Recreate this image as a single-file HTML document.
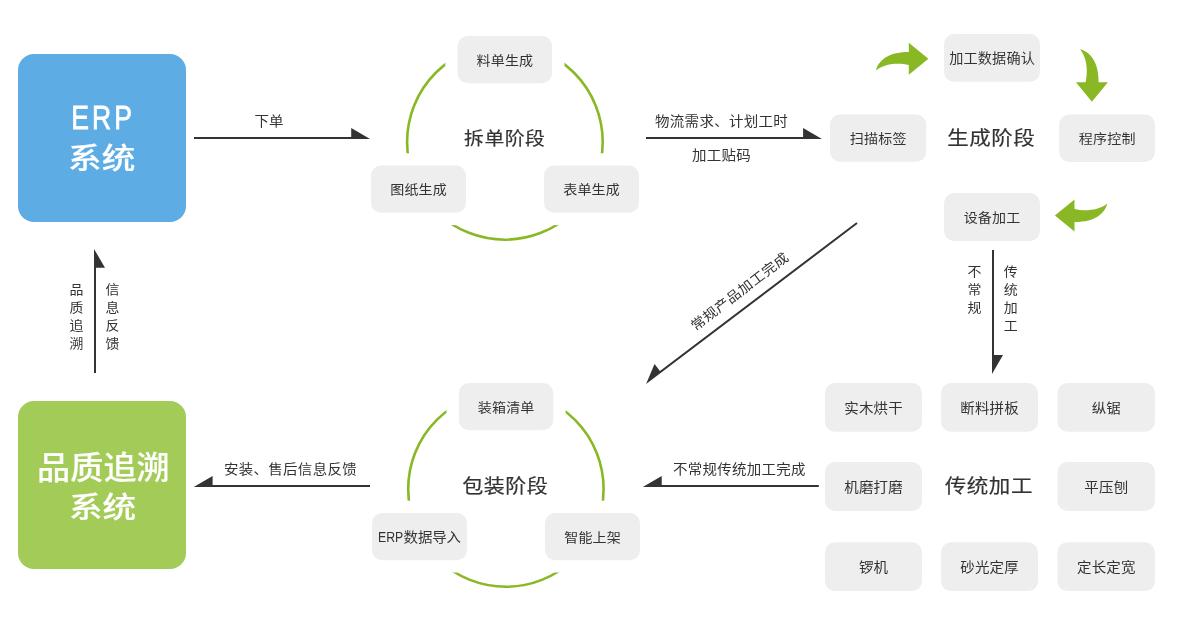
<!DOCTYPE html>
<html lang="zh-CN">
<head>
<meta charset="utf-8">
<title>ERP 系统流程</title>
<style>
html,body{margin:0;padding:0;background:#fff;}
body{width:1200px;height:620px;overflow:hidden;position:relative;font-family:"Liberation Sans","Noto Sans CJK SC",sans-serif;}
svg{position:absolute;left:0;top:0;display:block;will-change:transform;}
text{font-family:"Liberation Sans","Noto Sans CJK SC",sans-serif;}
.b{fill:#eeeeee;}
.t,.h{fill:#333;text-anchor:middle;}
.h{stroke:#333;stroke-width:0.18;}
.a{fill:#333;}
.arc{stroke:#8ab825;stroke-width:2.6;fill:none;}
.g{fill:#8ab825;}
.w{fill:#fff;text-anchor:middle;}
</style>
</head>
<body>
<svg width="1200" height="620" viewBox="0 0 1200 620">
<circle class="arc" cx="504.9" cy="141.9" r="97.8"/>
<circle class="arc" cx="505.9" cy="489" r="97.7"/>
<rect fill="#fff" x="445.3" y="23.7" width="119.1" height="71.9"/>
<rect fill="#fff" x="358.7" y="153.3" width="119.6" height="71.8"/>
<rect fill="#fff" x="531.7" y="153.3" width="119.6" height="71.8"/>
<rect fill="#fff" x="446.5" y="370.7" width="119.1" height="71.8"/>
<rect fill="#fff" x="359.7" y="500.7" width="119.6" height="71.8"/>
<rect fill="#fff" x="532.7" y="500.7" width="119.6" height="71.8"/>
<rect x="18" y="54" width="168" height="168" rx="16" fill="#5dade4"/>
<text class="w" transform="translate(101.6,128.5) scale(0.78,1)" x="2" y="0" font-size="34" letter-spacing="4.0" font-weight="400" stroke="#fff" stroke-width="0.8">ERP</text>
<text class="w" transform="translate(101.7,168.9) scale(1.16,1)" x="0" y="0" font-size="29" letter-spacing="0" font-weight="500" stroke="#fff" stroke-width="0.15">系统</text>
<rect x="18" y="401" width="168" height="168" rx="16" fill="#a3cb57"/>
<text class="w" transform="translate(103.4,479.4) scale(1.06,1)" x="0" y="0" font-size="31.3" letter-spacing="0" font-weight="500" stroke="#fff" stroke-width="0.15">品质追溯</text>
<text class="w" transform="translate(102.6,517.9) scale(1.16,1)" x="0" y="0" font-size="29" letter-spacing="0" font-weight="500" stroke="#fff" stroke-width="0.15">系统</text>
<path class="a" d="M194 139L370.1 139L351.2 128L351.2 137L194 137Z"/>
<text class="t" transform="translate(269,126) scale(1.08,1)" x="0.1" y="0" font-size="13.4" letter-spacing="0.2">下单</text>
<rect class="b" x="457.6" y="36" width="94.5" height="47.3" rx="10"/>
<text class="t" transform="translate(504.85,64.65) scale(1.08,1)" x="0.07" y="0" font-size="13" letter-spacing="0.15">料单生成</text>
<rect class="b" x="371" y="165.6" width="95" height="47.2" rx="10"/>
<text class="t" transform="translate(418.5,194.2) scale(1.08,1)" x="0.07" y="0" font-size="13" letter-spacing="0.15">图纸生成</text>
<rect class="b" x="544" y="165.6" width="95" height="47.2" rx="10"/>
<text class="t" transform="translate(591.5,194.2) scale(1.08,1)" x="0.07" y="0" font-size="13" letter-spacing="0.15">表单生成</text>
<text class="h" transform="translate(504.5,145.2) scale(1.085,1)" x="0.23" y="0" font-size="18.3" letter-spacing="0.45">拆单阶段</text>
<path class="a" d="M646 139L822 139L803.1 128L803.1 137L646 137Z"/>
<text class="t" transform="translate(721.4,126) scale(1.08,1)" x="0.15" y="0" font-size="13.4" letter-spacing="0.3">物流需求、计划工时</text>
<text class="t" transform="translate(721.4,160) scale(1.08,1)" x="0.15" y="0" font-size="13.4" letter-spacing="0.3">加工贴码</text>
<rect class="b" x="944" y="34" width="96" height="47.8" rx="10"/>
<text class="t" transform="translate(992,62.9) scale(1.08,1)" x="0.07" y="0" font-size="13.1" letter-spacing="0.15">加工数据确认</text>
<rect class="b" x="830" y="114.5" width="96.2" height="47.3" rx="10"/>
<text class="t" transform="translate(878.1,143.15) scale(1.08,1)" x="0.1" y="0" font-size="13" letter-spacing="0.2">扫描标签</text>
<rect class="b" x="1059.2" y="114.5" width="95.8" height="47.4" rx="10"/>
<text class="t" transform="translate(1107.1,143.2) scale(1.08,1)" x="0.1" y="0" font-size="13" letter-spacing="0.2">程序控制</text>
<rect class="b" x="944" y="193" width="96" height="48" rx="10"/>
<text class="t" transform="translate(992,222.4) scale(1.08,1)" x="0.1" y="0" font-size="13" letter-spacing="0.2">设备加工</text>
<text class="h" transform="translate(991,145) scale(1.115,1)" x="0.23" y="0" font-size="19.3" letter-spacing="0.45">生成阶段</text>
<path class="g" transform="translate(928.1,58.7)" d="M-52.2 11.8C-49.6 2 -40.1 -6.9 -19.3 -6.7V-16L0.3 0L-19.3 16V6.3C-29.1 4.1 -42.5 4.3 -52.2 11.8Z"/>
<path class="g" transform="translate(1091.9,101.5) rotate(90)" d="M-52.2 11.8C-49.6 2 -40.1 -6.9 -19.3 -6.7V-16L0.3 0L-19.3 16V6.3C-29.1 4.1 -42.5 4.3 -52.2 11.8Z"/>
<path class="g" transform="translate(1055.2,215.4) rotate(180)" d="M-52.2 11.8C-49.6 2 -40.1 -6.9 -19.3 -6.7V-16L0.3 0L-19.3 16V6.3C-29.1 4.1 -42.5 4.3 -52.2 11.8Z"/>
<path class="a" d="M857.6 223.8L646.1 384.1L654.52 363.91L659.96 371.09L856.4 222.2Z"/>
<text class="t" transform="translate(742.6,295.3) rotate(-37.3) scale(1.08,1)" x="0" y="0" font-size="13.4" letter-spacing="0.35" style="text-anchor:middle">常规产品加工完成</text>
<path class="a" d="M992 250L992 373.9L1003 355L994 355L994 250Z"/>
<text class="t" transform="translate(974.5,275.7) scale(1.08,1)" x="0 0 0" y="0 18 36" font-size="12.9">不常规</text>
<text class="t" transform="translate(1010.8,275.7) scale(1.08,1)" x="0 0 0 0" y="0 18 36 54" font-size="12.9">传统加工</text>
<rect class="b" x="825" y="383" width="97" height="48.8" rx="10"/>
<text class="t" transform="translate(873.5,412.5) scale(1.08,1)" x="0.1" y="0" font-size="13.4" letter-spacing="0.2">实木烘干</text>
<rect class="b" x="941" y="383" width="97" height="48.8" rx="10"/>
<text class="t" transform="translate(989.5,412.5) scale(1.08,1)" x="0.1" y="0" font-size="13.4" letter-spacing="0.2">断料拼板</text>
<rect class="b" x="1057.5" y="383" width="97.5" height="48.8" rx="10"/>
<text class="t" transform="translate(1106.25,412.5) scale(1.08,1)" x="0.1" y="0" font-size="13.4" letter-spacing="0.2">纵锯</text>
<rect class="b" x="825" y="462.1" width="97" height="48.8" rx="10"/>
<text class="t" transform="translate(873.5,491.6) scale(1.08,1)" x="0.1" y="0" font-size="13.4" letter-spacing="0.2">机磨打磨</text>
<rect class="b" x="1057.5" y="462.1" width="97.5" height="48.8" rx="10"/>
<text class="t" transform="translate(1106.25,491.6) scale(1.08,1)" x="0.1" y="0" font-size="13.4" letter-spacing="0.2">平压刨</text>
<rect class="b" x="825" y="542.3" width="97" height="48.8" rx="10"/>
<text class="t" transform="translate(873.5,571.8) scale(1.08,1)" x="0.1" y="0" font-size="13.4" letter-spacing="0.2">锣机</text>
<rect class="b" x="941" y="542.3" width="97" height="48.8" rx="10"/>
<text class="t" transform="translate(989.5,571.8) scale(1.08,1)" x="0.1" y="0" font-size="13.4" letter-spacing="0.2">砂光定厚</text>
<rect class="b" x="1057.5" y="542.3" width="97.5" height="48.8" rx="10"/>
<text class="t" transform="translate(1106.25,571.8) scale(1.08,1)" x="0.1" y="0" font-size="13.4" letter-spacing="0.2">定长定宽</text>
<text class="h" transform="translate(988.6,493) scale(1.105,1)" x="0.23" y="0" font-size="19.5" letter-spacing="0.45">传统加工</text>
<path class="a" d="M818.8 487L642.8 487L661.7 476L661.7 485L818.8 485Z"/>
<text class="t" transform="translate(739.2,474) scale(1.08,1)" x="0.14" y="0" font-size="13.4" letter-spacing="0.27">不常规传统加工完成</text>
<rect class="b" x="458.8" y="383" width="94.5" height="47.2" rx="10"/>
<text class="t" transform="translate(506.05,411.6) scale(1.08,1)" x="0.07" y="0" font-size="13" letter-spacing="0.15">装箱清单</text>
<rect class="b" x="372" y="513" width="95" height="47.2" rx="10"/>
<text class="t" transform="translate(378,541.6) scale(1.08,1)" x="0" y="0" font-size="13.4" style="text-anchor:start"><tspan font-size="14.9" textLength="23.4" lengthAdjust="spacingAndGlyphs">ERP</tspan><tspan dx="0.3" letter-spacing="-0.15">数据导入</tspan></text>
<rect class="b" x="545" y="513" width="95" height="47.2" rx="10"/>
<text class="t" transform="translate(592.5,541.6) scale(1.08,1)" x="0.07" y="0" font-size="13" letter-spacing="0.15">智能上架</text>
<text class="h" transform="translate(505,492.7) scale(1.09,1)" x="0.23" y="0" font-size="19.3" letter-spacing="0.45">包装阶段</text>
<path class="a" d="M370 487L193.7 487L212.6 476L212.6 485L370 485Z"/>
<text class="t" transform="translate(290.3,474) scale(1.08,1)" x="0.15" y="0" font-size="13.4" letter-spacing="0.3">安装、售后信息反馈</text>
<path class="a" d="M94 373L94 248.9L105 267.8L96 267.8L96 373Z"/>
<text class="t" transform="translate(76.5,294.2) scale(1.08,1)" x="0 0 0 0" y="0 18.1 36.2 54.3" font-size="12.9">品质追溯</text>
<text class="t" transform="translate(112.5,294.2) scale(1.08,1)" x="0 0 0 0" y="0 18.1 36.2 54.3" font-size="12.9">信息反馈</text>
</svg>
</body>
</html>
